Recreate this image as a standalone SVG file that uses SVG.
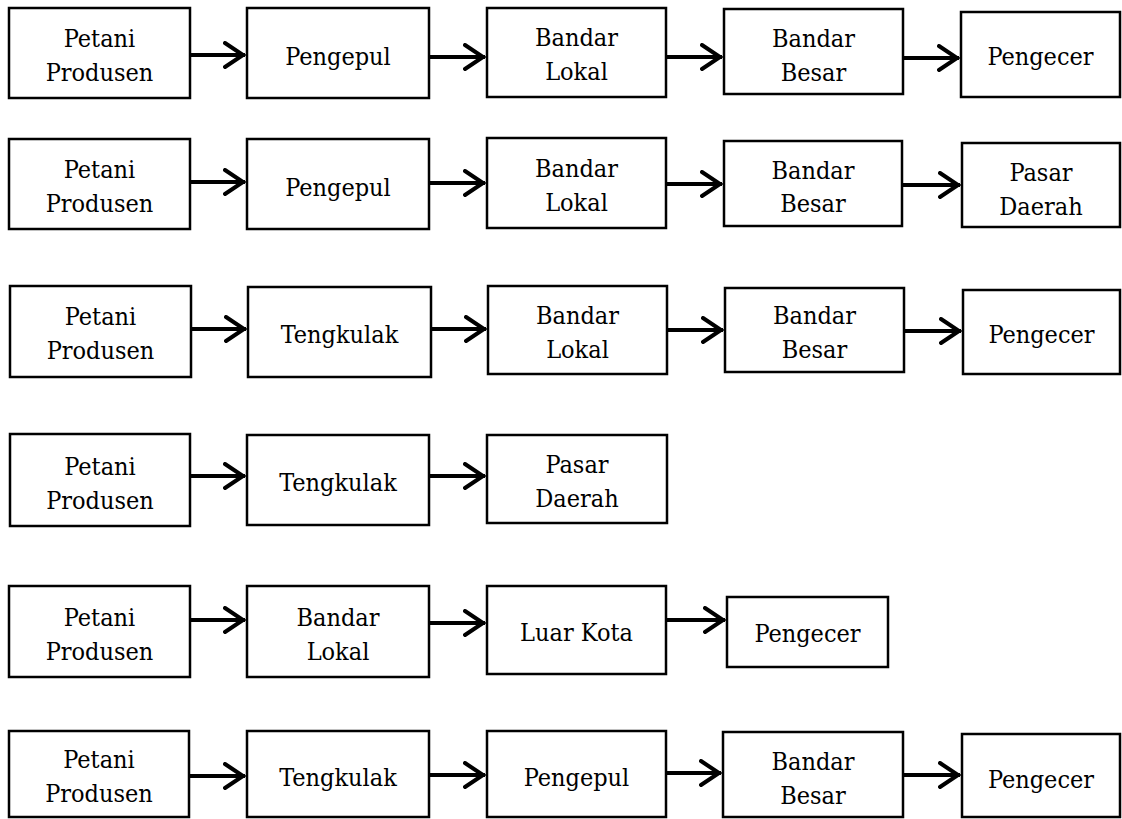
<svg xmlns="http://www.w3.org/2000/svg" width="1122" height="819" viewBox="0 0 1122 819">
<style>
.box{fill:#fff;stroke:#000;stroke-width:2.5}
text{font-family:'DejaVu Serif',serif;font-stretch:semi-condensed;font-size:25px;fill:#000;text-anchor:middle}
.c{stroke:#000;stroke-width:4;fill:none;marker-end:url(#ah)}
</style>
<defs>
<marker id="ah" viewBox="0 0 26 28" refX="22" refY="14" markerWidth="26" markerHeight="28" markerUnits="userSpaceOnUse" orient="auto">
<path d="M 2 2 L 20 14 L 2 26" fill="none" stroke="#000" stroke-width="4" stroke-linecap="round"/>
</marker>
</defs>
<rect width="1122" height="819" fill="#fff"/>
<g id="connectors">
<path class="c" d="M190 55 H245"/>
<path class="c" d="M429 57 H485"/>
<path class="c" d="M666 57 H722"/>
<path class="c" d="M903 58 H959"/>
<path class="c" d="M190 182 H245"/>
<path class="c" d="M429 183 H485"/>
<path class="c" d="M666 184 H722"/>
<path class="c" d="M902 185 H960"/>
<path class="c" d="M191 329 H246"/>
<path class="c" d="M431 329 H486"/>
<path class="c" d="M667 330 H723"/>
<path class="c" d="M904 331 H961"/>
<path class="c" d="M190 476 H245"/>
<path class="c" d="M429 476 H485"/>
<path class="c" d="M190 620 H245"/>
<path class="c" d="M429 623 H485"/>
<path class="c" d="M666 620 H725"/>
<path class="c" d="M189 776 H245"/>
<path class="c" d="M429 775 H485"/>
<path class="c" d="M666 773 H721"/>
<path class="c" d="M903 775 H960"/>
</g>
<g id="r1-petani"><rect class="box" x="9" y="8" width="181" height="90"/><text x="99.5" y="47">Petani</text><text x="99.5" y="81">Produsen</text></g>
<g id="r1-pengepul"><rect class="box" x="247" y="8" width="182" height="90"/><text x="338" y="65">Pengepul</text></g>
<g id="r1-bandar-lokal"><rect class="box" x="487" y="8" width="179" height="89"/><text x="576.5" y="46">Bandar</text><text x="576.5" y="80">Lokal</text></g>
<g id="r1-bandar-besar"><rect class="box" x="724" y="9" width="179" height="85"/><text x="813.5" y="47">Bandar</text><text x="813.5" y="81">Besar</text></g>
<g id="r1-pengecer"><rect class="box" x="961" y="12" width="159" height="85"/><text x="1040.5" y="65">Pengecer</text></g>

<g id="r2-petani"><rect class="box" x="9" y="139" width="181" height="90"/><text x="99.5" y="178">Petani</text><text x="99.5" y="212">Produsen</text></g>
<g id="r2-pengepul"><rect class="box" x="247" y="139" width="182" height="90"/><text x="338" y="196">Pengepul</text></g>
<g id="r2-bandar-lokal"><rect class="box" x="487" y="138" width="179" height="90"/><text x="576.5" y="177">Bandar</text><text x="576.5" y="211">Lokal</text></g>
<g id="r2-bandar-besar"><rect class="box" x="724" y="141" width="178" height="85"/><text x="813" y="179">Bandar</text><text x="813" y="212">Besar</text></g>
<g id="r2-pasar-daerah"><rect class="box" x="962" y="143" width="158" height="84"/><text x="1041" y="181">Pasar</text><text x="1041" y="215">Daerah</text></g>

<g id="r3-petani"><rect class="box" x="10" y="286" width="181" height="91"/><text x="100.5" y="325">Petani</text><text x="100.5" y="359">Produsen</text></g>
<g id="r3-tengkulak"><rect class="box" x="248" y="287" width="183" height="90"/><text x="339.5" y="343">Tengkulak</text></g>
<g id="r3-bandar-lokal"><rect class="box" x="488" y="286" width="179" height="88"/><text x="577.5" y="324">Bandar</text><text x="577.5" y="358">Lokal</text></g>
<g id="r3-bandar-besar"><rect class="box" x="725" y="288" width="179" height="84"/><text x="814.5" y="324">Bandar</text><text x="814.5" y="358">Besar</text></g>
<g id="r3-pengecer"><rect class="box" x="963" y="290" width="157" height="84"/><text x="1041.5" y="343">Pengecer</text></g>

<g id="r4-petani"><rect class="box" x="10" y="434" width="180" height="92"/><text x="100" y="475">Petani</text><text x="100" y="509">Produsen</text></g>
<g id="r4-tengkulak"><rect class="box" x="247" y="435" width="182" height="90"/><text x="338" y="491">Tengkulak</text></g>
<g id="r4-pasar-daerah"><rect class="box" x="487" y="435" width="180" height="88"/><text x="577" y="473">Pasar</text><text x="577" y="507">Daerah</text></g>

<g id="r5-petani"><rect class="box" x="9" y="586" width="181" height="91"/><text x="99.5" y="626">Petani</text><text x="99.5" y="660">Produsen</text></g>
<g id="r5-bandar-lokal"><rect class="box" x="247" y="586" width="182" height="91"/><text x="338" y="626">Bandar</text><text x="338" y="660">Lokal</text></g>
<g id="r5-luar-kota"><rect class="box" x="487" y="586" width="179" height="88"/><text x="576.5" y="641">Luar Kota</text></g>
<g id="r5-pengecer"><rect class="box" x="727" y="597" width="161" height="70"/><text x="807.5" y="642">Pengecer</text></g>

<g id="r6-petani"><rect class="box" x="9" y="731" width="180" height="86"/><text x="99" y="768">Petani</text><text x="99" y="802">Produsen</text></g>
<g id="r6-tengkulak"><rect class="box" x="247" y="731" width="182" height="86"/><text x="338" y="786">Tengkulak</text></g>
<g id="r6-pengepul"><rect class="box" x="487" y="731" width="179" height="86"/><text x="576.5" y="786">Pengepul</text></g>
<g id="r6-bandar-besar"><rect class="box" x="723" y="732" width="180" height="85"/><text x="813" y="770">Bandar</text><text x="813" y="804">Besar</text></g>
<g id="r6-pengecer"><rect class="box" x="962" y="734" width="158" height="83"/><text x="1041" y="788">Pengecer</text></g>
</svg>
